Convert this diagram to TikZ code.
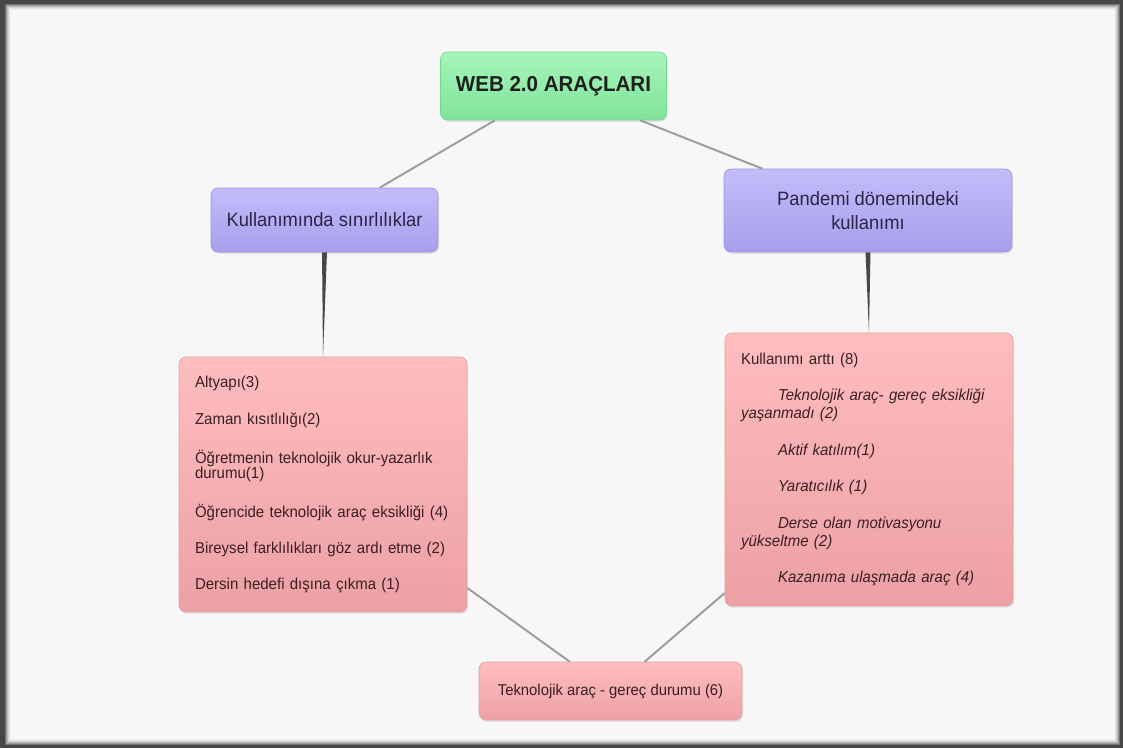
\documentclass[tikz,border=0pt]{standalone}
\usepackage{fontspec}
\setmainfont{Liberation Sans}[FakeStretch=0.95]
\usetikzlibrary{shadows}

\definecolor{paper}{HTML}{F7F7F7}
\definecolor{greentop}{HTML}{A6F5BA}
\definecolor{greenbot}{HTML}{7FE39A}
\definecolor{greenline}{HTML}{79D790}
\definecolor{lilactop}{HTML}{C3BCFA}
\definecolor{lilacbot}{HTML}{A79FEC}
\definecolor{lilacline}{HTML}{9D95E0}
\definecolor{pinktop}{HTML}{FFBDC0}
\definecolor{pinkbot}{HTML}{ECA0A5}
\definecolor{pinkline}{HTML}{E3A0A4}
\definecolor{linkgray}{HTML}{9C9C9C}

\tikzset{
  box/.style={rounded corners=4pt, inner sep=0pt,
    drop shadow={opacity=0.18, shadow xshift=0.6pt, shadow yshift=-1pt}},
  titlebox/.style={box, top color=greentop, bottom color=greenbot, draw=greenline,
    minimum width=4.52cm, minimum height=1.36cm, text=black!88,
    font=\fontsize{12.3}{14}\selectfont\bfseries},
  catbox/.style={box, top color=lilactop, bottom color=lilacbot, draw=lilacline,
    text={rgb,255:red,43;green,37;blue,69}, align=center,
    font=\fontsize{11}{13.5}\selectfont},
  listbox/.style={box, top color=pinktop, bottom color=pinkbot, draw=pinkline,
    text={rgb,255:red,58;green,31;blue,34}, align=left,
    minimum width=5.76cm, text width=5.12cm, inner xsep=0.32cm},
  techbox/.style={box, top color=pinktop, bottom color=pinkbot, draw=pinkline,
    text={rgb,255:red,58;green,31;blue,34}, minimum width=5.26cm,
    minimum height=1.16cm, font=\fontsize{8.9}{10}\selectfont},
  link/.style={draw=linkgray, line width=1.1pt},
  stem/.style={fill=black!72}
}

\begin{document}
\begin{tikzpicture}[x=0.02cm, y=-0.02cm]
  % frame
  \fill[black!72] (0,0) rectangle (1123,748);
  \foreach \i/\s in {0/55,1/40,2/28,3/18,4/10,5/6}
    \fill[black!\s] (5+\i,4+\i) rectangle (1120-\i,745-\i);
  \fill[paper] (11,10) rectangle (1114,739);
  \useasboundingbox (0,0) rectangle (1123,748);

  \node[titlebox] (web) at (553.5,86) {WEB 2.0 ARAÇLARI};
  \node[catbox, minimum width=4.54cm, minimum height=1.28cm] (lim) at (324.5,220)
    {Kullanımında sınırlılıklar};
  \node[catbox, minimum width=5.76cm, minimum height=1.66cm] (pand) at (868,210.5)
    {Pandemi dönemindeki\\kullanımı};

  \node[listbox, minimum height=5.10cm, font=\fontsize{9}{8.9}\selectfont] (limlist) at (323,484.5)
    {Altyapı(3)\\[12pt]
     Zaman kısıtlılığı(2)\\[11.6pt]
     Öğretmenin teknolojik okur-yazarlık\\
     durumu(1)\\[11.6pt]
     Öğrencide teknolojik araç eksikliği (4)\\[11.6pt]
     Bireysel farklılıkları göz ardı etme (2)\\[11.6pt]
     Dersin hedefi dışına çıkma (1)};
  \node[listbox, minimum height=5.46cm, font=\fontsize{9}{10.2}\selectfont] (pandlist) at (869,469.5)
    {Kullanımı arttı (8)\\[10.6pt]
     \hspace*{0.74cm}\textit{Teknolojik araç- gereç eksikliği}\\
     \textit{yaşanmadı (2)}\\[10.6pt]
     \hspace*{0.74cm}\textit{Aktif katılım(1)}\\[10.6pt]
     \hspace*{0.74cm}\textit{Yaratıcılık (1)}\\[10.6pt]
     \hspace*{0.74cm}\textit{Derse olan motivasyonu}\\
     \textit{yükseltme (2)}\\[10.6pt]
     \hspace*{0.74cm}\textit{Kazanıma ulaşmada araç (4)}};

  \node[techbox] (tech) at (610.5,691) {Teknolojik araç - gereç durumu (6)};

  \draw[link] (web) -- (lim);
  \draw[link] (web) -- (pand);
  \draw[link] (limlist) -- (tech);
  \draw[link] (pandlist) -- (tech);
  \fill[stem] ([xshift=-1.4pt]lim.south) -- ([xshift=1.4pt]lim.south) -- (limlist.north) -- cycle;
  \fill[stem] ([xshift=-1.4pt]pand.south) -- ([xshift=1.4pt]pand.south) -- (pandlist.north) -- cycle;
\end{tikzpicture}
\end{document}
